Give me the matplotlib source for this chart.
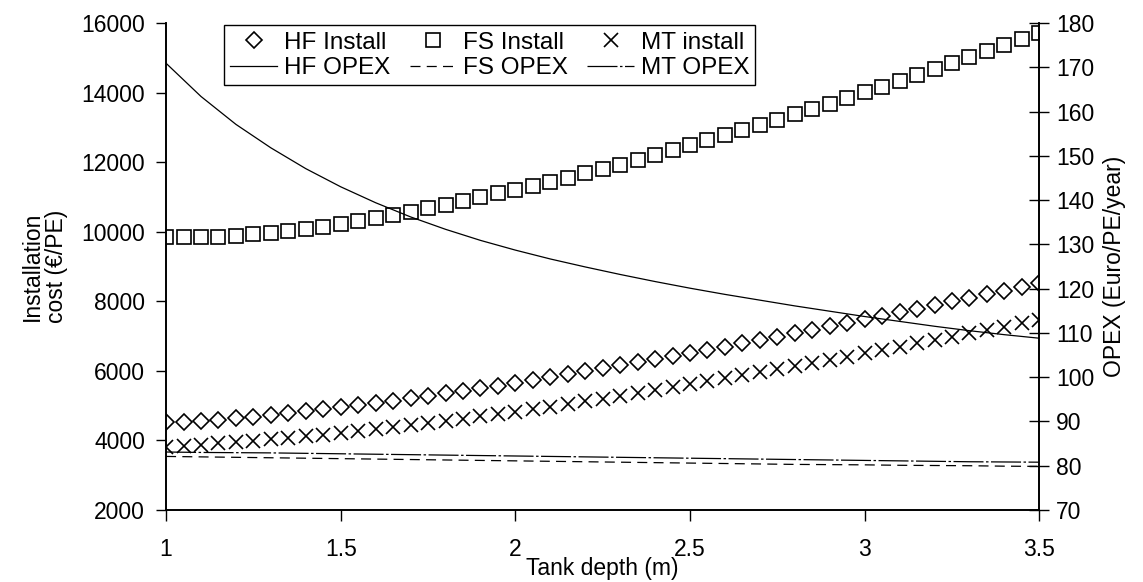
import matplotlib
matplotlib.use("Agg")
import matplotlib.pyplot as plt

plt.rcParams["font.family"] = ["Liberation Sans", "DejaVu Sans"]
plt.rcParams["font.size"] = 16.5

# tank depth (m) for the install markers
depth = [1.00, 1.05, 1.10, 1.15, 1.20, 1.25, 1.30, 1.35, 1.40, 1.45,
         1.50, 1.55, 1.60, 1.65, 1.70, 1.75, 1.80, 1.85, 1.90, 1.95,
         2.00, 2.05, 2.10, 2.15, 2.20, 2.25, 2.30, 2.35, 2.40, 2.45,
         2.50, 2.55, 2.60, 2.65, 2.70, 2.75, 2.80, 2.85, 2.90, 2.95,
         3.00, 3.05, 3.10, 3.15, 3.20, 3.25, 3.30, 3.35, 3.40, 3.45, 3.50]

# installation cost (EUR/PE), left axis
hf_install = [4520, 4540, 4565, 4600, 4640, 4685, 4735, 4785, 4840, 4895,
              4955, 5015, 5080, 5145, 5210, 5280, 5350, 5425, 5500, 5575,
              5655, 5735, 5815, 5900, 5985, 6070, 6160, 6245, 6335, 6425,
              6515, 6610, 6700, 6795, 6890, 6985, 7085, 7180, 7280, 7380,
              7480, 7580, 7685, 7785, 7890, 7995, 8100, 8205, 8310, 8420, 8530]
fs_install = [9840, 9840, 9845, 9860, 9885, 9920, 9965, 10015, 10075, 10145,
              10220, 10305, 10395, 10485, 10580, 10680, 10780, 10885, 10990, 11100,
              11210, 11320, 11435, 11555, 11675, 11800, 11930, 12065, 12200, 12340,
              12480, 12625, 12770, 12915, 13065, 13215, 13370, 13525, 13685, 13845,
              14005, 14170, 14335, 14500, 14670, 14840, 15015, 15190, 15365, 15545, 15725]
mt_install = [3820, 3850, 3880, 3915, 3950, 3990, 4030, 4075, 4120, 4170,
              4220, 4275, 4330, 4385, 4445, 4505, 4565, 4630, 4695, 4760,
              4830, 4900, 4975, 5050, 5125, 5205, 5285, 5365, 5450, 5535,
              5620, 5705, 5790, 5875, 5965, 6050, 6140, 6230, 6320, 6410,
              6515, 6600, 6695, 6790, 6885, 6980, 7075, 7170, 7265, 7365, 7465]

# depth for the OPEX curves
depth_opex = [1.0, 1.1, 1.2, 1.3, 1.4, 1.5, 1.6, 1.7, 1.8, 1.9, 2.0, 2.1, 2.2,
              2.3, 2.4, 2.5, 2.6, 2.7, 2.8, 2.9, 3.0, 3.1, 3.2, 3.3, 3.4, 3.5]

# OPEX (Euro/PE/year), right axis
hf_opex = [170.9, 163.4, 157.1, 151.8, 147.1, 143.0, 139.4, 136.2, 133.4, 130.9,
           128.7, 126.7, 124.9, 123.2, 121.6, 120.1, 118.7, 117.4, 116.1, 114.9,
           113.7, 112.6, 111.5, 110.5, 109.6, 108.8]
fs_opex = [82.1, 82.0, 81.9, 81.8, 81.7, 81.6, 81.5, 81.4, 81.3, 81.2,
           81.1, 81.0, 80.9, 80.8, 80.7, 80.6, 80.5, 80.4, 80.3, 80.25,
           80.2, 80.1, 80.05, 80.0, 79.9, 79.85]
mt_opex = [83.1, 83.0, 82.95, 82.9, 82.8, 82.7, 82.6, 82.5, 82.4, 82.3,
           82.2, 82.1, 82.0, 81.9, 81.8, 81.7, 81.6, 81.5, 81.4, 81.3,
           81.2, 81.1, 81.0, 80.9, 80.85, 80.8]

x_ticks = [1, 1.5, 2, 2.5, 3, 3.5]
x_tick_labels = ["1", "1.5", "2", "2.5", "3", "3.5"]

fig = plt.figure(figsize=(11.43, 5.82), dpi=100)
ax = fig.add_axes([0.1453, 0.1237, 0.7640, 0.8368])
ax2 = ax.twinx()

mk = dict(linestyle="none", markerfacecolor="none", markeredgecolor="black",
          markeredgewidth=1.2)
h1, = ax.plot(depth, hf_install, marker="D", markersize=8, label="HF Install", **mk)
h2, = ax.plot(depth, fs_install, marker="s", markersize=10, label="FS Install", **mk)
h3, = ax.plot(depth, mt_install, marker="x", markersize=10.5, label="MT install", **mk)

h4, = ax2.plot(depth_opex, hf_opex, color="black", lw=0.9, label="HF OPEX")
h5, = ax2.plot(depth_opex, fs_opex, color="black", lw=0.9, dashes=(8, 5), label="FS OPEX")
h6, = ax2.plot(depth_opex, mt_opex, color="black", lw=0.9, dashes=(24, 2, 2, 2),
               label="MT OPEX")

ax.set_xlim(1, 3.5)
ax.set_ylim(2000, 16000)
ax.set_yticks(range(2000, 16001, 2000))
ax.set_xticks(x_ticks)
ax.set_xticklabels(x_tick_labels)
ax2.set_ylim(70, 180)
ax2.set_yticks(range(70, 181, 10))

for a in (ax, ax2):
    a.spines["top"].set_visible(False)
    for s in a.spines.values():
        s.set_linewidth(1.2)
ax.tick_params(axis="x", direction="out", length=8, width=1, pad=12)
ax.tick_params(axis="y", direction="out", length=7, width=1, pad=8)
ax2.tick_params(axis="y", direction="inout", length=14, width=1, pad=5)

ax.set_xlabel("Tank depth (m)", labelpad=-3)
ax.set_ylabel("Installation\ncost (€/PE)", labelpad=10, linespacing=1.05)
ax2.set_ylabel("OPEX (Euro/PE/year)", labelpad=6)

leg = ax.legend(handles=[h1, h4, h2, h5, h3, h6], ncol=3, loc="upper left",
                bbox_to_anchor=(0.064, 1.0), borderaxespad=0.1, fancybox=False,
                framealpha=1, edgecolor="black", fontsize=17.5, handlelength=1.9,
                columnspacing=0.8, handletextpad=0.3, borderpad=0.25,
                labelspacing=0.15)
leg.get_frame().set_linewidth(1.0)

fig.savefig("out.png", dpi=100)
